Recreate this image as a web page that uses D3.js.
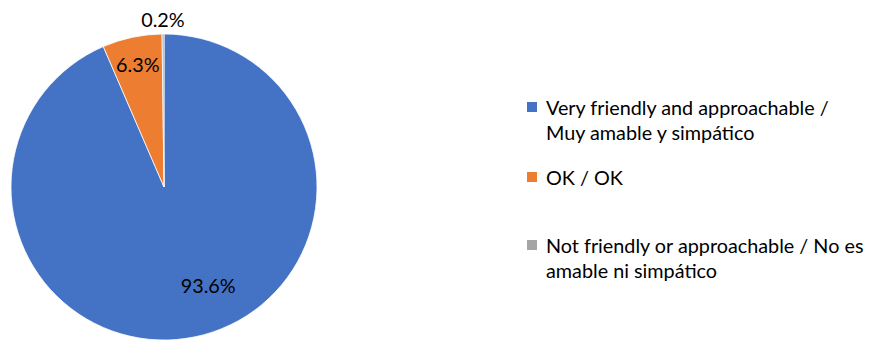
<!DOCTYPE html>
<html>
<head>
<meta charset="utf-8">
<script src="https://cdn.jsdelivr.net/npm/d3@7"></script>
<style>
  html, body { margin: 0; padding: 0; background: #fff; }
  svg { display: block; font-family: Lato, "Carlito", Calibri, "Open Sans", sans-serif; }
</style>
</head>
<body>
<svg id="chart" width="876" height="340"></svg>
<script>
// Response categories (two-line legend text) and their shares in percent
const categories = [
  ["Very friendly and approachable /", "Muy amable y simpático"],
  ["OK / OK"],
  ["Not friendly or approachable / No es", "amable ni simpático"]
];
const values = [93.6, 6.3, 0.2];
const valueLabels = ["93.6%", "6.3%", "0.2%"];
const colors = ["#4472C4", "#ED7D31", "#A5A5A5"];

const svg = d3.select("#chart");
const cx = 164, cy = 187, r = 153;
const fontSize = 19.8;

const pie = d3.pie().sort(null).value(d => d);
const arcs = pie(values);
const arc = d3.arc().innerRadius(0).outerRadius(r);

const g = svg.append("g").attr("transform", `translate(${cx},${cy})`);

g.selectAll("path.slice")
  .data(arcs)
  .join("path")
  .attr("class", "slice")
  .attr("d", arc)
  .attr("fill", (d, i) => colors[i])
  .attr("stroke", "#fff")
  .attr("stroke-width", 0.75);

// Data labels: best-fit placement — radius factor and angular nudge (degrees) per slice
const labelRadius = [0.70, 0.82, 1.1];
const labelNudge = [-12.7, 0, 0];
function labelPos(d, i) {
  const a = (d.startAngle + d.endAngle) / 2 + labelNudge[i] * Math.PI / 180;
  return [Math.sin(a) * r * labelRadius[i], -Math.cos(a) * r * labelRadius[i]];
}
g.selectAll("text.value")
  .data(arcs)
  .join("text")
  .attr("class", "value")
  .attr("x", (d, i) => labelPos(d, i)[0])
  .attr("y", (d, i) => labelPos(d, i)[1])
  .attr("text-anchor", "middle")
  .attr("dominant-baseline", "central")
  .attr("font-size", fontSize)
  .attr("fill", "#000")
  .text((d, i) => valueLabels[i]);

// Legend
const legendX = 527;
const legendRows = [107, 177, 245];
const lineH = 24.5;
const legend = svg.append("g");
categories.forEach((lines, i) => {
  const y = legendRows[i];
  legend.append("rect")
    .attr("x", legendX)
    .attr("y", y - 5)
    .attr("width", 10)
    .attr("height", 10)
    .attr("fill", colors[i]);
  const t = legend.append("text")
    .attr("x", legendX + 19)
    .attr("y", y)
    .attr("font-size", fontSize)
    .attr("fill", "#000")
    .attr("dominant-baseline", "central");
  lines.forEach((ln, j) => {
    t.append("tspan")
      .attr("x", legendX + 19)
      .attr("dy", j === 0 ? 0 : lineH)
      .text(ln);
  });
});
</script>
</body>
</html>
